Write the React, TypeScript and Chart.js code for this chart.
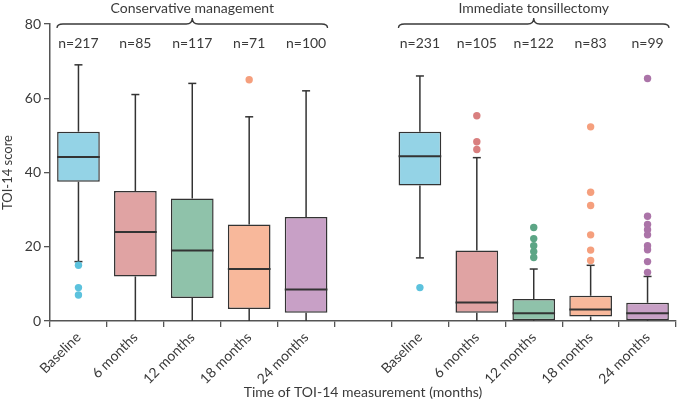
import { useEffect, useRef } from "react";
import { Chart, registerables, ChartConfiguration, Plugin } from "chart.js";

Chart.register(...registerables);

// ---- data ----
const timepoints = ["Baseline", "6 months", "12 months", "18 months", "24 months"];
const groups = ["Conservative management", "Immediate tonsillectomy"];
const groupN = [
  [217, 85, 117, 71, 100],
  [231, 105, 122, 83, 99],
];
const whiskerLow = [
  [16, 0, 0, 0, 0],
  [17, 0, 0, 0, 0],
];
const q1 = [
  [37.5, 12, 6.2, 3.2, 2.2],
  [36.5, 2.2, 0.2, 1.2, 0.2],
];
const median = [
  [44.2, 24, 19, 14, 8.5],
  [44.4, 5, 2.1, 3.1, 2.1],
];
const q3 = [
  [51, 35, 33, 26, 28],
  [51, 19, 5.9, 6.8, 4.9],
];
const whiskerHigh = [
  [69, 61, 64, 55, 62],
  [66, 44, 14, 15, 12],
];
const outliers = [
  [[15, 9, 7], [], [], [65], []],
  [
    [9],
    [55.3, 48.3, 46.2],
    [25.2, 22.2, 20.3, 18.7, 17.1],
    [52.3, 34.7, 31.1, 23.2, 19.1, 16.3],
    [65.3, 28.2, 26, 24.6, 23.2, 20.3, 19.2, 16, 13.1],
  ],
];

const boxColors = ["#94d3e6", "#e0a3a3", "#8fc2aa", "#f8b89b", "#c8a0c6"];
const dotColors = ["#5cc2dd", "#d97f7f", "#5ca585", "#f59f7d", "#ab74a8"];

const FONT = "Lato, 'Open Sans', sans-serif";
const TEXT = "#3a3a3a";
const LINE = "#333333";
const AXIS = "#555555";

const GAP = "gap";
const keyOf = (g: number, t: number) => `${groups[g]}|${timepoints[t]}`;
const labels = [
  ...timepoints.map((_, t) => keyOf(0, t)),
  GAP,
  ...timepoints.map((_, t) => keyOf(1, t)),
];

const boxPlugin: Plugin<"bar"> = {
  id: "boxParts",
  beforeDatasetsDraw(chart) {
    const { ctx } = chart;
    const y = chart.scales.y;
    const meta = chart.getDatasetMeta(0);
    ctx.save();
    ctx.strokeStyle = LINE;
    ctx.lineWidth = 1.5;
    groups.forEach((_, g) =>
      timepoints.forEach((_, t) => {
        const idx = labels.indexOf(keyOf(g, t));
        const el: any = meta.data[idx];
        if (!el) return;
        const cx = el.x;
        const cap = 4;
        const segs: [number, number][] = [
          [q3[g][t], whiskerHigh[g][t]],
          [q1[g][t], whiskerLow[g][t]],
        ];
        segs.forEach(([from, to]) => {
          if (from === to) return;
          ctx.beginPath();
          ctx.moveTo(cx, y.getPixelForValue(from));
          ctx.lineTo(cx, y.getPixelForValue(to));
          ctx.stroke();
          if (to > 0) {
            ctx.beginPath();
            ctx.moveTo(cx - cap, y.getPixelForValue(to));
            ctx.lineTo(cx + cap, y.getPixelForValue(to));
            ctx.stroke();
          }
        });
      })
    );
    ctx.restore();
  },
  afterDatasetsDraw(chart) {
    const { ctx, chartArea } = chart;
    const x = chart.scales.x;
    const y = chart.scales.y;
    const meta = chart.getDatasetMeta(0);
    ctx.save();
    // medians
    ctx.strokeStyle = LINE;
    ctx.lineWidth = 2;
    groups.forEach((_, g) =>
      timepoints.forEach((_, t) => {
        const idx = labels.indexOf(keyOf(g, t));
        const el: any = meta.data[idx];
        if (!el) return;
        const py = y.getPixelForValue(median[g][t]);
        ctx.beginPath();
        ctx.moveTo(el.x - el.width / 2, py);
        ctx.lineTo(el.x + el.width / 2, py);
        ctx.stroke();
      })
    );

    // braces, group titles and n labels
    const step = x.getPixelForValue(1) - x.getPixelForValue(0);
    const top = y.getPixelForValue(80);
    ctx.lineWidth = 1.3;
    ctx.strokeStyle = TEXT;
    ctx.fillStyle = TEXT;
    ctx.textAlign = "center";
    ctx.textBaseline = "middle";
    groups.forEach((name, g) => {
      const first = labels.indexOf(keyOf(g, 0));
      const last = labels.indexOf(keyOf(g, timepoints.length - 1));
      const x1 = x.getPixelForValue(first) - step / 2 + 7;
      const x2 = x.getPixelForValue(last) + step / 2 - 7;
      const xm = (x1 + x2) / 2;
      const r = 6;
      ctx.beginPath();
      ctx.moveTo(x1, top + 4);
      ctx.quadraticCurveTo(x1, top, x1 + r, top);
      ctx.lineTo(xm - r, top);
      ctx.quadraticCurveTo(xm, top, xm, top - 6);
      ctx.quadraticCurveTo(xm, top, xm + r, top);
      ctx.lineTo(x2 - r, top);
      ctx.quadraticCurveTo(x2, top, x2, top + 4);
      ctx.stroke();

      ctx.font = `14px ${FONT}`;
      ctx.fillText(name, xm, top - 16);
      groupN[g].forEach((n, t) => {
        const cx = x.getPixelForValue(labels.indexOf(keyOf(g, t)));
        ctx.fillText(`n=${n}`, cx, chartArea.top + 19);
      });
    });
    ctx.restore();
  },
};

const BoxPlotChart = () => {
  const chartRef = useRef<HTMLCanvasElement | null>(null);
  const myChartRef = useRef<Chart<"bar"> | null>(null);

  useEffect(() => {
    if (!chartRef.current) return;
    const ctx = chartRef.current.getContext("2d");
    if (!ctx) return;
    if (myChartRef.current) myChartRef.current.destroy();

    const boxData = labels.map((k) => {
      if (k === GAP) return null;
      const [gName, tName] = k.split("|");
      const g = groups.indexOf(gName);
      const t = timepoints.indexOf(tName);
      return [q1[g][t], q3[g][t]] as [number, number];
    });
    const boxFill = labels.map((k) =>
      k === GAP ? "transparent" : boxColors[timepoints.indexOf(k.split("|")[1])]
    );

    const dots: { x: string; y: number }[] = [];
    const dotFill: string[] = [];
    outliers.forEach((row, g) =>
      row.forEach((vals, t) =>
        vals.forEach((v) => {
          dots.push({ x: keyOf(g, t), y: v });
          dotFill.push(dotColors[t]);
        })
      )
    );

    const config: ChartConfiguration<"bar"> = {
      type: "bar",
      data: {
        labels,
        datasets: [
          {
            data: boxData as any,
            backgroundColor: boxFill,
            borderColor: LINE,
            borderWidth: 1.5,
            borderSkipped: false,
            barPercentage: 0.75,
            categoryPercentage: 1,
          },
          {
            type: "scatter" as any,
            data: dots as any,
            pointBackgroundColor: dotFill,
            pointBorderWidth: 0,
            pointRadius: 3.7,
          } as any,
        ],
      },
      options: {
        responsive: false,
        animation: false,
        layout: { padding: { top: 24, right: 2, left: 0, bottom: 0 } },
        plugins: {
          legend: { display: false },
          tooltip: { enabled: false },
        },
        scales: {
          x: {
            type: "category",
            grid: {
              display: true,
              offset: true,
              drawOnChartArea: false,
              drawTicks: true,
              tickLength: 6,
              color: AXIS,
              lineWidth: 1.3,
            },
            border: { color: AXIS, width: 1.5 },
            ticks: {
              autoSkip: false,
              maxRotation: 45,
              minRotation: 45,
              color: TEXT,
              font: { family: FONT, size: 14 },
              padding: 2,
              callback(value) {
                const l = this.getLabelForValue(value as number);
                return l === GAP ? "" : l.split("|")[1];
              },
            },
            title: {
              display: true,
              text: "Time of TOI-14 measurement (months)",
              color: TEXT,
              font: { family: FONT, size: 14 },
              padding: { top: 0, bottom: 2 },
            },
            afterFit(scale) {
              scale.height = 82;
            },
          },
          y: {
            min: 0,
            max: 80,
            grid: {
              display: true,
              drawOnChartArea: false,
              drawTicks: true,
              tickLength: 6,
              color: AXIS,
              lineWidth: 1.3,
            },
            border: { color: AXIS, width: 1.5 },
            ticks: {
              stepSize: 20,
              color: TEXT,
              font: { family: FONT, size: 14 },
              padding: 3,
            },
            title: {
              display: true,
              text: "TOI-14 score",
              color: TEXT,
              font: { family: FONT, size: 13 },
              padding: { top: 0, bottom: 0 },
            },
            afterFit(scale) {
              scale.width = 50;
            },
          },
        },
      },
      plugins: [boxPlugin],
    };

    myChartRef.current = new Chart(ctx, config);

    return () => {
      if (myChartRef.current) {
        myChartRef.current.destroy();
        myChartRef.current = null;
      }
    };
  }, []);

  return (
    <div style={{ position: "fixed", left: 0, top: 0, width: 680, height: 403, background: "#fff" }}>
      <canvas ref={chartRef} width="680" height="403"></canvas>
    </div>
  );
};

export default function App() {
  return <BoxPlotChart />;
}
